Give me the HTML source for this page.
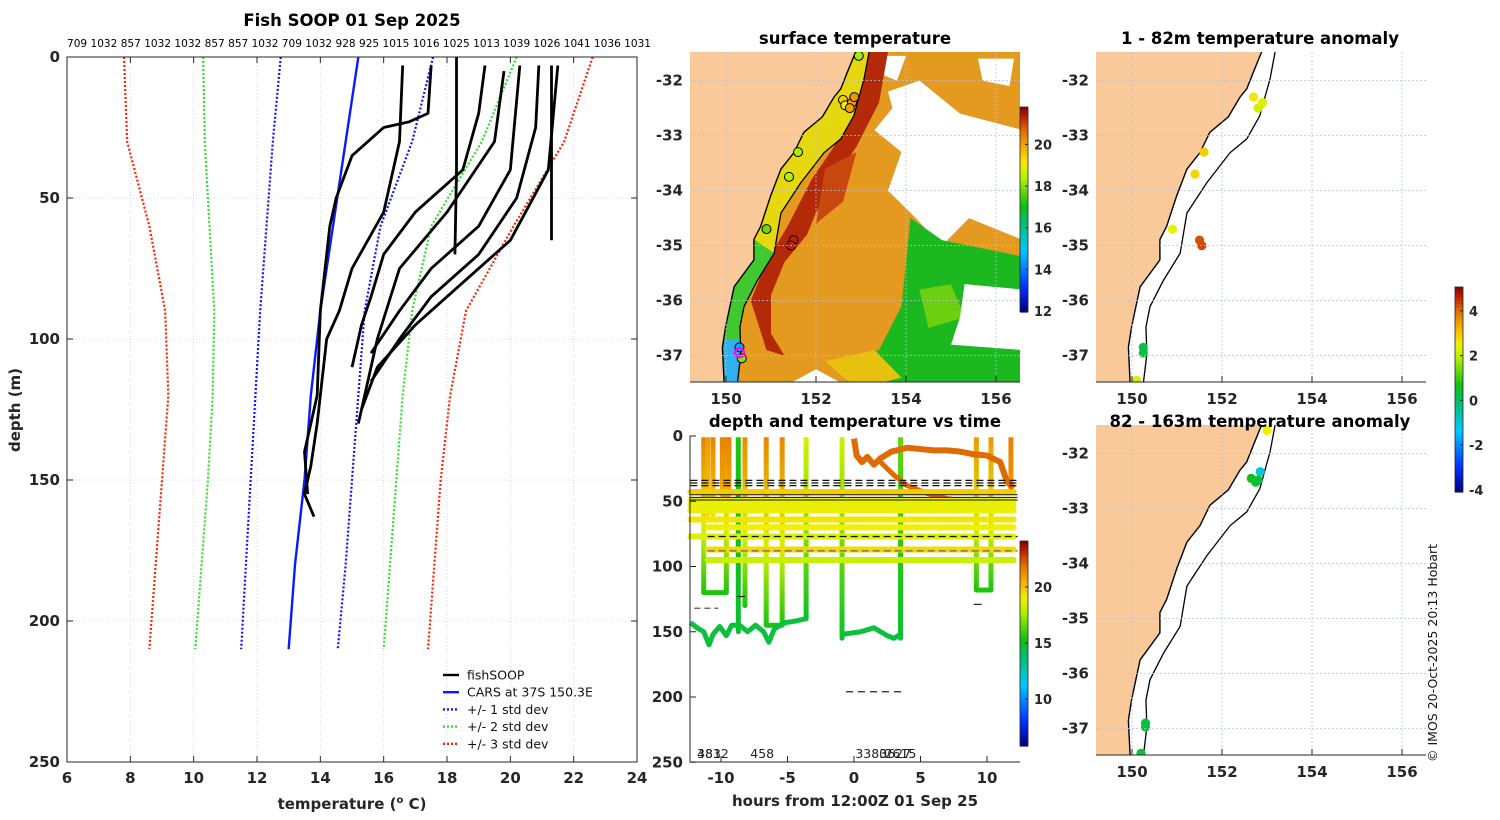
<!DOCTYPE html>
<html><head><meta charset="utf-8">
<style>
html,body{margin:0;padding:0;background:#fff;}
svg{display:block;font-family:"DejaVu Sans","Liberation Sans",sans-serif;}
.tk{font-size:15px;font-weight:bold;fill:#262626;}
.ttl{font-size:16.5px;font-weight:bold;fill:#000;}
</style></head>
<body>
<svg id="fig" width="1500" height="820" viewBox="0 0 1500 820"></svg>
<script>
// ---------- DATA ----------
const profileDepths = [0, 30, 60, 90, 120, 150, 180, 210];
const carsTemp = [15.2, 14.8, 14.4, 14.0, 13.7, 13.5, 13.2, 13.0];
const std1Left = [12.75, 12.5, 12.3, 12.1, 11.95, 11.8, 11.65, 11.5];
const std1Right = [17.56, 16.9, 15.9, 15.4, 15.2, 15.0, 14.8, 14.55];
const std2Left = [10.3, 10.35, 10.5, 10.65, 10.6, 10.45, 10.25, 10.05];
const std2Right = [20.2, 19.1, 17.5, 16.9, 16.6, 16.4, 16.2, 16.0];
const std3Left = [7.8, 7.9, 8.6, 9.1, 9.2, 9.0, 8.8, 8.6];
const std3Right = [22.6, 21.7, 20.1, 18.6, 18.1, 17.8, 17.6, 17.4];
const fishProfiles = [
 [[16.6,3],[16.5,30],[16.2,45],[16.0,55],[15.0,75],[14.6,90],[14.2,100],[13.9,130],[13.7,145],[13.5,155],[13.8,163]],
 [[17.5,3],[17.4,20],[16.8,23],[16.0,25],[15.0,35],[14.5,50],[14.3,60],[14.0,90],[13.9,120],[13.5,140],[13.6,155]],
 [[18.3,0],[18.3,40],[18.25,70]],
 [[19.2,3],[19.0,20],[18.5,40],[17.0,55],[16.0,70],[15.6,85],[15.3,95],[15.0,110]],
 [[19.8,5],[19.5,30],[18.0,55],[16.5,75],[15.8,100],[15.3,125],[15.2,130]],
 [[20.3,3],[20.0,40],[19.0,60],[17.5,75],[16.5,90],[15.6,105]],
 [[21.3,3],[21.3,65]],
 [[20.9,3],[20.8,25],[20.2,50],[19.0,70],[17.5,85],[16.5,100],[15.6,115]],
 [[21.5,3],[21.2,40],[20.0,65],[18.5,80],[17.0,95],[15.8,110],[15.3,125]]
];
const topLabels = ["709","1032","857","1032","1032","857","857","1032","709","1032","928","925","1015","1016","1025","1013","1039","1026","1041","1036","1031"];

// time-depth panel
const bandDepths = [43, 49, 53, 57, 64, 70, 77, 87, 95];
const bandTemps = [19.8, 19.0, 18.8, 18.9, 19.2, 19.0, 18.6, 19.5, 18.2];
const bandStart = [-12.3, -12.3, -12.3, -12.3, -12.3, -11.0, -12.3, -11.0, -11.0];
const castDown = [-11.3, -11.0, -10.6, -9.9, -8.7, -8.2, -6.6, -3.6, -0.9, 3.5, 9.2, 11.8];
const castUp = [-9.6, -11.0, -10.6, -9.4, -8.7, -8.2, -5.4, -3.6, -0.9, 3.5, 10.3, 11.8];
const castMaxDepth = [120, 60, 60, 45, 150, 130, 145, 140, 155, 155, 118, 40];
const castTopTemp = [21.5, 21.0, 21.5, 21.5, 15.5, 21.3, 21.4, 18.5, 18.3, 16.5, 21.0, 21.5];
const castBotTemp = [15.5, 19.5, 19.5, 20.5, 14.8, 15.5, 15.5, 15.0, 14.8, 14.8, 15.5, 21.0];
const greenHours1 = [-12.3,-11.8,-11.3,-10.9,-10.6,-10.1,-9.6,-9.2,-8.6,-8.0,-7.4,-6.8,-6.4,-6.0,-5.2,-4.5,-3.6];
const greenDepths1 = [143,147,150,160,152,146,153,145,145,150,145,150,158,148,143,142,140];
const greenHours2 = [-0.9, 0.5, 1.5, 2.5, 3.0, 3.5];
const greenDepths2 = [152, 150, 147, 153, 155, 152];
const orangeHours = [0, 0.2, 0.6, 1.0, 1.5, 2.0, 2.8, 4.0, 5.0, 6.0, 7.0, 8.0, 9.0, 10.0, 11.0, 11.5, 12.0];
const orangeDepths = [2, 15, 20, 16, 22, 17, 12, 9, 10, 11, 11, 12, 14, 15, 20, 35, 40];
const orange2Hours = [2.0, 3.0, 4.0, 5.5, 7.0, 8.5, 9.5];
const orange2Depths = [20, 30, 38, 44, 48, 50, 52];
const dashDepths = [34, 36, 38, 77, 88];
const solidDepths = [45, 47, 49];
const castLabels = ["483","3812","458","3380","3627","2615"];
const castLabelHours = [-11.8, -11.8, -7.8, 0.1, 1.9, 2.3];

// maps
const coastLon = [152.88,152.70,152.55,152.40,152.14,151.73,151.51,151.22,150.99,150.77,150.62,150.62,150.18,149.99,149.92,149.96];
const coastLat = [-31.48,-31.84,-32.15,-32.30,-32.66,-32.94,-33.31,-33.61,-34.10,-34.65,-34.89,-35.26,-35.75,-36.48,-36.85,-37.52];
const shelfLon = [153.18,153.07,152.84,152.55,152.18,151.66,151.22,151.07,150.70,150.40,150.31,150.33,150.25];
const shelfLat = [-31.48,-31.96,-32.64,-33.06,-33.31,-33.86,-34.41,-35.14,-35.63,-36.11,-36.48,-36.97,-37.52];
const sstLon = [152.95,152.6,152.65,152.8,152.85,152.75,151.6,151.4,150.9,151.5,151.45,150.3,150.35];
const sstLat = [-31.55,-32.35,-32.45,-32.4,-32.3,-32.5,-33.3,-33.75,-34.7,-34.9,-35.0,-36.85,-37.05];
const sstVal = [18.2,19.5,19.0,20.0,20.2,20.0,18.3,18.4,17.8,21.3,21.3,14.5,18.0];
const anom1Lon = [152.7,152.9,152.8,151.6,151.4,150.9,151.5,151.55,150.25,150.25,150.1];
const anom1Lat = [-32.3,-32.4,-32.5,-33.3,-33.7,-34.7,-34.9,-35.0,-36.85,-36.95,-37.45];
const anom1Val = [2.6,2.3,2.2,2.9,2.8,2.4,4.2,4.3,0.2,0.3,2.2];
const anom2Lon = [153.0,152.85,152.65,152.75,152.8,150.3,150.3,150.2];
const anom2Lat = [-31.58,-32.33,-32.45,-32.52,-32.48,-36.9,-36.97,-37.45];
const anom2Val = [2.5,-1.0,0.6,0.3,0.4,0.3,0.3,0.3];

// ---------- HELPERS ----------
const NS = "http://www.w3.org/2000/svg";
const fig = document.getElementById("fig");
function mk(tag, attrs, parent) {
  const e = document.createElementNS(NS, tag);
  for (const k in attrs) e.setAttribute(k, attrs[k]);
  (parent || fig).appendChild(e);
  return e;
}
const stops = [[0,[0,0,127]],[0.12,[0,48,255]],[0.3,[0,200,255]],[0.42,[0,192,128]],[0.52,[16,192,16]],[0.65,[176,240,0]],[0.72,[240,240,0]],[0.8,[248,176,0]],[0.88,[224,112,0]],[0.95,[192,32,0]],[1,[128,0,0]]];
function cmap(v, lo, hi) {
  let t = Math.max(0, Math.min(1, (v - lo) / (hi - lo)));
  for (let i = 1; i < stops.length; i++) {
    if (t <= stops[i][0]) {
      const a = stops[i-1], b = stops[i], f = (t - a[0]) / (b[0] - a[0]);
      const c = a[1].map((x, j) => Math.round(x + (b[1][j] - x) * f));
      return `rgb(${c[0]},${c[1]},${c[2]})`;
    }
  }
  return "rgb(128,0,0)";
}
function txt(x, y, s, cls, anchor, extra) {
  const t = mk("text", Object.assign({x: x, y: y, "text-anchor": anchor || "middle"}, extra || {}));
  if (cls) t.setAttribute("class", cls);
  t.textContent = s;
  return t;
}
function colorbar(x, y0, y1, lo, hi, ticks, name) {
  const g = mk("g", {});
  
  
  const n = 60, h = (y1 - y0) / n;
  for (let i = 0; i < n; i++) {
    const v = hi - (i + 0.5) * (hi - lo) / n;
    mk("rect", {x: x, y: y0 + i * h, width: 8, height: h + 0.6, fill: cmap(v, lo, hi)}, g);
  }
  mk("rect", {x: x, y: y0, width: 8, height: y1 - y0, fill: "none", stroke: "#222", "stroke-width": 0.8}, g);
  ticks.forEach(v => {
    const yy = y0 + (hi - v) / (hi - lo) * (y1 - y0);
    mk("line", {x1: x + 5, x2: x + 8, y1: yy, y2: yy, stroke: "#222"}, g);
    const t = mk("text", {x: x + 14, y: yy + 5, "class": "tk"}, g);
    t.setAttribute("style", "font-size:13px");
    t.textContent = String(v);
  });
}

// ---------- LEFT PANEL ----------
const X = t => 67 + (t - 6) * 31.667;
const Y = d => 57 + d * 2.82;
const L = mk("g", {});


mk("rect", {x: 67, y: 57, width: 570, height: 705, fill: "#fff"}, L);
for (let t = 8; t <= 22; t += 2) mk("line", {x1: X(t), x2: X(t), y1: 57, y2: 762, stroke: "#c8d0e8", "stroke-width": 0.8, "stroke-dasharray": "1,2"}, L);
for (let d = 50; d <= 200; d += 50) mk("line", {x1: 67, x2: 637, y1: Y(d), y2: Y(d), stroke: "#c8d0e8", "stroke-width": 0.8, "stroke-dasharray": "1,2"}, L);
function lineTD(temps, col, w, dash, name) {
  const p = mk("polyline", {points: temps.map((t, i) => X(t) + "," + Y(profileDepths[i])).join(" "), fill: "none", stroke: col, "stroke-width": w, "stroke-dasharray": dash || "none"}, L);
  
  
}
lineTD(std3Left, "#ff2000", 2.2, "2,2", "std3-left-line");
lineTD(std3Right, "#ff2000", 2.2, "2,2", "std3-right-line");
lineTD(std2Left, "#30e030", 2.2, "2,2", "std2-left-line");
lineTD(std2Right, "#30e030", 2.2, "2,2", "std2-right-line");
lineTD(std1Left, "#1010ff", 2.2, "2,2", "std1-left-line");
lineTD(std1Right, "#1010ff", 2.2, "2,2", "std1-right-line");
lineTD(carsTemp, "#0a1aff", 2.4, null, "cars-line");
fishProfiles.forEach(pr => {
  const p = mk("polyline", {points: pr.map(q => X(q[0]) + "," + Y(q[1])).join(" "), fill: "none", stroke: "#000", "stroke-width": 2.8, "stroke-linejoin": "round"}, L);
  
  
});
mk("rect", {x: 67, y: 57, width: 570, height: 705, fill: "none", stroke: "#262626", "stroke-width": 1}, L);
for (let t = 6; t <= 24; t += 2) {
  mk("line", {x1: X(t), x2: X(t), y1: 762, y2: 756, stroke: "#262626"}, L);
  mk("line", {x1: X(t), x2: X(t), y1: 57, y2: 63, stroke: "#262626"}, L);
  txt(X(t), 783, String(t), "tk");
}
for (let d = 0; d <= 250; d += 50) {
  mk("line", {x1: 67, x2: 73, y1: Y(d), y2: Y(d), stroke: "#262626"}, L);
  mk("line", {x1: 637, x2: 631, y1: Y(d), y2: Y(d), stroke: "#262626"}, L);
  txt(60, Y(d) + 5, String(d), "tk", "end");
}
txt(352, 26, "Fish SOOP 01 Sep 2025", "ttl");
const tl = txt(67, 47, topLabels.join(" "), null, "start", {textLength: 584, lengthAdjust: "spacingAndGlyphs", "font-size": "11"});


const yl = txt(0, 0, "depth (m)", "tk", "middle", {transform: "translate(20,410) rotate(-90)"});


const xl = mk("text", {x: 352, y: 809, "text-anchor": "middle", "class": "tk"});


xl.innerHTML = 'temperature (<tspan dy="-6" font-size="10">o</tspan><tspan dy="6"> C)</tspan>';
const legItems = [["fishSOOP","#000",null],["CARS at 37S 150.3E","#0a1aff",null],["+/- 1 std dev","#1010ff","2,2"],["+/- 2 std dev","#30e030","2,2"],["+/- 3 std dev","#ff2000","2,2"]];
legItems.forEach((it, i) => {
  const g = mk("g", {});
  
  
  const yy = 675 + i * 17.2;
  mk("line", {x1: 443, x2: 459, y1: yy, y2: yy, stroke: it[1], "stroke-width": 2.4, "stroke-dasharray": it[2] || "none"}, g);
  const t = mk("text", {x: 467, y: yy + 4.5, "font-size": "12.5", fill: "#111"}, g);
  t.textContent = it[0];
});

// ---------- MAP HELPERS ----------
function proj(x0, y0) {
  return [lon => x0 + (lon - 149.2) * 45, lat => y0 + (-31.48 - lat) * 55];
}
function mapFrame(x0, y0, id, name) {
  const g = mk("g", {});
  
  
  const cp = mk("clipPath", {id: id}, g);
  mk("rect", {x: x0, y: y0, width: 330, height: 330}, cp);
  const inner = mk("g", {"clip-path": "url(#" + id + ")"}, g);
  return [g, inner];
}
function poly(pts, MX, MY, fill, parent) {
  return mk("polygon", {points: pts.map(p => MX(p[0]) + "," + MY(p[1])).join(" "), fill: fill}, parent);
}
function coastAndShelf(MX, MY, inner) {
  const land = coastLon.map((l, i) => [l, coastLat[i]]).concat([[149.0, -37.6], [149.0, -31.3], [152.9, -31.3]]);
  const lp = poly(land, MX, MY, "#f9c99a", inner);
  
  
  const cl = mk("polyline", {points: coastLon.map((l, i) => MX(l) + "," + MY(coastLat[i])).join(" "), fill: "none", stroke: "#000", "stroke-width": 1.4}, inner);
  
  
  const sl = mk("polyline", {points: shelfLon.map((l, i) => MX(l) + "," + MY(shelfLat[i])).join(" "), fill: "none", stroke: "#000", "stroke-width": 1.3}, inner);
  
  
}
function mapAxes(g, x0, y0, MX, MY, latTicks) {
  [150, 152, 154, 156].forEach(l => {
    mk("line", {x1: MX(l), x2: MX(l), y1: y0, y2: y0 + 330, stroke: "#b8bfe0", "stroke-width": 0.8, "stroke-dasharray": "2,2"}, g);
    mk("line", {x1: MX(l), x2: MX(l), y1: y0 + 330, y2: y0 + 324, stroke: "#262626"}, g);
    txt(MX(l), y0 + 352, String(l), "tk");
  });
  latTicks.forEach(l => {
    mk("line", {x1: x0, x2: x0 + 330, y1: MY(l), y2: MY(l), stroke: "#b8bfe0", "stroke-width": 0.8, "stroke-dasharray": "2,2"}, g);
    txt(x0 - 7, MY(l) + 5, String(l), "tk", "end");
  });
  mk("line", {x1: x0, x2: x0 + 330, y1: y0 + 330, y2: y0 + 330, stroke: "#262626"}, g);
}

// ---------- SURFACE TEMPERATURE MAP ----------
(function () {
  const [MX, MY] = proj(690, 52);
  const [g, inner] = mapFrame(690, 52, "clipA", "surface-temperature-map");
  poly([[149.2,-31.3],[157,-31.3],[157,-37.6],[149.2,-37.6]], MX, MY, "#e49a1e", inner);
  poly([[153.6,-32.2],[154.3,-32.0],[155.2,-32.6],[156.6,-32.9],[156.6,-34.9],[155.4,-34.5],[154.8,-35.0],[154.1,-34.4],[153.6,-34.0],[153.9,-33.3],[153.3,-32.9],[153.7,-32.5]], MX, MY, "#ffffff", inner);
  poly([[153.5,-31.55],[154.0,-31.55],[153.8,-32.0],[153.5,-31.9]], MX, MY, "#ffffff", inner);
  poly([[155.6,-31.6],[156.4,-31.6],[156.3,-32.1],[155.7,-32.0]], MX, MY, "#ffffff", inner);
  poly([[154.1,-34.5],[154.8,-34.9],[156.6,-35.2],[156.6,-37.6],[152.8,-37.6],[152.4,-37.1],[153.4,-36.9],[153.9,-36.1],[154.0,-35.3]], MX, MY, "#1cb820", inner);
  poly([[154.3,-35.8],[155.0,-35.7],[155.3,-36.3],[154.5,-36.5]], MX, MY, "#6cd010", inner);
  poly([[155.3,-35.7],[156.6,-35.8],[156.6,-36.9],[155.0,-36.8],[155.2,-36.3]], MX, MY, "#ffffff", inner);
  poly([[151.2,-37.6],[152.0,-37.25],[152.8,-37.6]], MX, MY, "#ffffff", inner);
  poly([[152.2,-37.1],[153.3,-36.9],[153.9,-37.4],[152.9,-37.6]], MX, MY, "#e8c010", inner);
  poly([[152.9,-31.48],[153.6,-31.48],[153.4,-32.4],[152.9,-33.2],[152.4,-33.8],[152.0,-34.4],[151.8,-34.8],[151.3,-35.3],[151.0,-35.9],[151.0,-36.6],[151.3,-37.0],[150.9,-36.9],[150.55,-36.0],[150.9,-35.3],[151.4,-34.6],[151.9,-33.8],[152.4,-33.2],[152.8,-32.4]], MX, MY, "#b42a08", inner);
  poly([[152.2,-33.6],[152.9,-33.3],[152.6,-34.2],[152.0,-34.6]], MX, MY, "#c84810", inner);
  const north = coastLon.slice(0, 11).map((l, i) => [l, coastLat[i]]).concat(shelfLon.slice(0, 8).reverse().map((l, i) => [l, shelfLat.slice(0, 8).reverse()[i]]));
  poly(north, MX, MY, "#e6d810", inner);
  const south = coastLon.slice(10).map((l, i) => [l, coastLat[10 + i]]).concat(shelfLon.slice(7).reverse().map((l, i) => [l, shelfLat.slice(7).reverse()[i]]));
  poly(south, MX, MY, "#40c830", inner);
  poly([[149.96,-36.7],[150.3,-36.7],[150.3,-37.6],[149.96,-37.6]], MX, MY, "#30b0f0", inner);
  coastAndShelf(MX, MY, inner);
  sstLon.forEach((l, i) => {
    const c = mk("circle", {cx: MX(l), cy: MY(sstLat[i]), r: 4.5, fill: cmap(sstVal[i], 11.95, 21.8), stroke: "#000", "stroke-width": 1}, inner);
    
    
  });
  mk("circle", {cx: MX(150.3), cy: MY(-36.95), r: 4.5, fill: "none", stroke: "#ff00ff", "stroke-width": 2.2}, inner);
  mapAxes(g, 690, 52, MX, MY, [-32, -33, -34, -35, -36, -37]);
  txt(855, 44, "surface temperature", "ttl");
  colorbar(1020, 107, 312, 11.95, 21.8, [12, 14, 16, 18, 20], "sst-colorbar");
})();

// ---------- ANOMALY MAPS ----------
function anomMap(y0, id, name, lons, lats, vals, title, ty) {
  const [MX, MY] = proj(1096, y0);
  const [g, inner] = mapFrame(1096, y0, id, name);
  coastAndShelf(MX, MY, inner);
  lons.forEach((l, i) => {
    const c = mk("circle", {cx: MX(l), cy: MY(lats[i]), r: 4.6, fill: cmap(vals[i], -4.1, 5.07)}, inner);
    
    
  });
  mapAxes(g, 1096, y0, MX, MY, [-32, -33, -34, -35, -36, -37]);
  txt(1260, ty, title, "ttl");
}
anomMap(52, "clipB", "anomaly-map-shallow", anom1Lon, anom1Lat, anom1Val, "1 - 82m temperature anomaly", 44);
anomMap(425, "clipC", "anomaly-map-deep", anom2Lon, anom2Lat, anom2Val, "82 - 163m temperature anomaly", 427);
colorbar(1455, 287, 492, -4.1, 5.07, [4, 2, 0, -2, -4], "anomaly-colorbar");
const cr = txt(0, 0, "© IMOS 20-Oct-2025 20:13 Hobart", null, "start", {transform: "translate(1437,762) rotate(-90)", "font-size": "12.5", fill: "#111"});



// ---------- TIME-DEPTH PANEL ----------
(function () {
  const TX = h => 854 + h * 13.3;
  const TY = d => 436 + d * 1.305;
  const g = mk("g", {});
  
  
  const defs = mk("defs", {}, g);
  castDown.forEach((h, i) => {
    const lg = mk("linearGradient", {id: "cg" + i, x1: 0, y1: TY(0), x2: 0, y2: TY(castMaxDepth[i]), gradientUnits: "userSpaceOnUse"}, defs);
    mk("stop", {offset: "0", "stop-color": cmap(castTopTemp[i], 5.8, 24.1)}, lg);
    mk("stop", {offset: "0.6", "stop-color": cmap((castTopTemp[i] + castBotTemp[i]) / 2, 5.8, 24.1)}, lg);
    mk("stop", {offset: "1", "stop-color": cmap(castBotTemp[i], 5.8, 24.1)}, lg);
  });
  castDown.forEach((h, i) => {
    const d = `M${TX(h)},${TY(1)} L${TX(h)},${TY(castMaxDepth[i])} L${TX(castUp[i])},${TY(castMaxDepth[i])} L${TX(castUp[i])},${TY(1)}`;
    const p = mk("path", {d: d, fill: "none", stroke: "url(#cg" + i + ")", "stroke-width": 5, "stroke-linejoin": "round"}, g);
    
    
  });
  const gp1 = mk("polyline", {points: greenHours1.map((h, i) => TX(h) + "," + TY(greenDepths1[i])).join(" "), fill: "none", stroke: cmap(14.6, 5.8, 24.1), "stroke-width": 5, "stroke-linejoin": "round"}, g);
  
  
  const gp2 = mk("polyline", {points: greenHours2.map((h, i) => TX(h) + "," + TY(greenDepths2[i])).join(" "), fill: "none", stroke: cmap(14.6, 5.8, 24.1), "stroke-width": 5, "stroke-linejoin": "round"}, g);
  
  
  const op = mk("polyline", {points: orangeHours.map((h, i) => TX(h) + "," + TY(orangeDepths[i])).join(" "), fill: "none", stroke: cmap(22.0, 5.8, 24.1), "stroke-width": 6, "stroke-linejoin": "round"}, g);
  
  
  const op2 = mk("polyline", {points: orange2Hours.map((h, i) => TX(h) + "," + TY(orange2Depths[i])).join(" "), fill: "none", stroke: cmap(22.0, 5.8, 24.1), "stroke-width": 5, "stroke-linejoin": "round"}, g);
  
  
  bandDepths.forEach((d, i) => {
    const b = mk("line", {x1: TX(bandStart[i]), x2: TX(12), y1: TY(d), y2: TY(d), stroke: cmap(bandTemps[i], 5.8, 24.1), "stroke-width": 6, "stroke-linecap": "round"}, g);
    
    
  });
  dashDepths.forEach((d, i) => {
    mk("line", {x1: TX(i >= 3 ? -11.0 : -12.3), x2: TX(12.3), y1: TY(d), y2: TY(d), stroke: i === 4 ? "#666" : "#111", "stroke-width": 1.3, "stroke-dasharray": "7,4"}, g);
  });
  solidDepths.forEach(d => mk("line", {x1: TX(-12.3), x2: TX(12.3), y1: TY(d), y2: TY(d), stroke: "#111", "stroke-width": 1}, g));
  mk("line", {x1: TX(-0.6), x2: TX(3.6), y1: TY(196), y2: TY(196), stroke: "#222", "stroke-width": 1.2, "stroke-dasharray": "7,5"}, g);
  mk("line", {x1: TX(-12.0), x2: TX(-10.2), y1: TY(132), y2: TY(132), stroke: "#555", "stroke-width": 1.2, "stroke-dasharray": "6,4"}, g);
  mk("line", {x1: TX(-8.8), x2: TX(-8.2), y1: TY(123), y2: TY(123), stroke: "#222", "stroke-width": 1.2}, g);
  mk("line", {x1: TX(9.0), x2: TX(9.6), y1: TY(129), y2: TY(129), stroke: "#222", "stroke-width": 1.2}, g);
  castLabels.forEach((s, i) => {
    const t = mk("text", {x: TX(castLabelHours[i]), y: 758, "font-size": "12.5", fill: "#222"}, g);
    t.textContent = s;
  });
  mk("line", {x1: 690, x2: 690, y1: 436, y2: 762, stroke: "#262626"}, g);
  mk("line", {x1: 690, x2: 1020, y1: 762, y2: 762, stroke: "#262626"}, g);
  for (let h = -10; h <= 10; h += 5) {
    mk("line", {x1: TX(h), x2: TX(h), y1: 762, y2: 756, stroke: "#262626"}, g);
    txt(TX(h), 783, String(h), "tk");
  }
  for (let d = 0; d <= 250; d += 50) {
    mk("line", {x1: 690, x2: 696, y1: TY(d), y2: TY(d), stroke: "#262626"}, g);
    txt(683, TY(d) + 5, String(d), "tk", "end");
  }
  txt(855, 427, "depth and temperature vs time", "ttl");
  txt(855, 806, "hours from 12:00Z 01 Sep 25", "tk");
  colorbar(1020, 541, 746, 5.8, 24.1, [10, 15, 20], "time-colorbar");
})();
</script>
</body></html>
